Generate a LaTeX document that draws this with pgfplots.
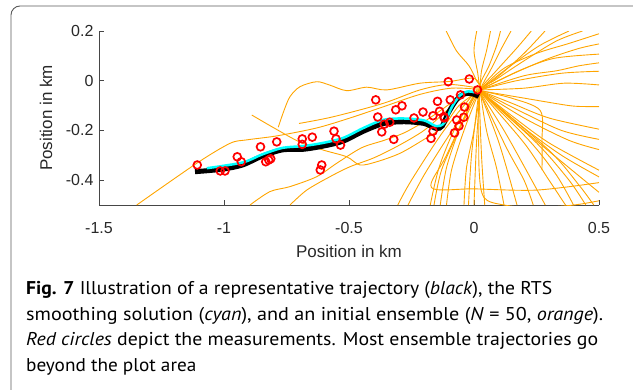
\documentclass[border=0pt]{standalone}
\usepackage{pgfplots}
\pgfplotsset{compat=1.18}
\usepackage{fontspec}
\setmainfont{Liberation Sans}
\newfontfamily\capfont{PT Sans}
\definecolor{ens}{RGB}{255,165,0}
\definecolor{rtscyan}{RGB}{0,255,255}
\definecolor{axgrey}{RGB}{70,70,70}
\definecolor{txgrey}{RGB}{40,40,40}
\definecolor{framegrey}{RGB}{90,90,90}
\newsavebox\capbox
\newcommand{\capline}[3]{%
  \node[anchor=base west, inner sep=0pt, text=black] at (26,#1) {%
    \sbox\capbox{\capfont\fontsize{18.5}{24}\selectfont #3}%
    \pgfmathsetmacro\capsx{#2/\wd\capbox}%
    \scalebox{\capsx}[1]{\usebox\capbox}};}
\newcommand{\caplinef}[3]{%
  \node[anchor=base west, inner sep=0pt, text=black] at (26,#1) {%
    \scalebox{#2}[1]{\capfont\fontsize{18.5}{24}\selectfont #3}};}
\begin{document}
\begin{tikzpicture}[x=1pt,y=1pt]
\useasboundingbox (0,0) rectangle (633,389);
\draw[framegrey, line width=0.9pt, rounded corners=9pt] (11,383) rectangle (680,-40);
\begin{axis}[
  at={(99pt,184pt)}, anchor=south west,
  scale only axis, width=500pt, height=174pt,
  xmin=-1.5, xmax=0.5, ymin=-0.5, ymax=0.2,
  axis x line*=bottom, axis y line*=left,
  axis line style={draw=axgrey, line width=0.8pt, -},
  tick align=inside, major tick length=5pt,
  tick style={axgrey, line width=0.8pt},
  xtick={-1.5,-1,-0.5,0,0.5}, ytick={-0.4,-0.2,0,0.2},
  /pgf/number format/assume math mode=true,
  ticklabel style={font=\fontsize{16}{19}\selectfont, text=txgrey},
  xticklabel style={yshift=-14pt},
  yticklabel style={xshift=-2pt},
  xlabel={Position in km}, ylabel={Position in km},
  label style={font=\fontsize{17}{20}\selectfont, text=txgrey},
  xlabel style={at={(axis description cs:0.5,-0.264)}, anchor=center},
  ylabel style={at={(axis description cs:-0.106,0.5)}, anchor=center},
  every axis plot/.append style={smooth, tension=0.5},
]
% ensemble (orange)
\pgfplotsset{ensline/.style={color=ens, line width=0.9pt}}
\addplot[ensline] coordinates {(-1.349,-0.5) (-1.109,-0.332) (-0.976,-0.252) (-0.909,-0.238) (-0.789,-0.222) (-0.629,-0.19) (-0.496,-0.15) (-0.363,-0.105) (-0.216,-0.055) (-0.09,-0.03) (0.024,-0.035)};
\addplot[ensline] coordinates {(-0.783,-0.187) (-0.760,-0.12) (-0.736,-0.064) (-0.696,-0.024) (-0.629,-0.004) (-0.576,-0.018) (-0.509,-0.040) (-0.429,-0.026) (-0.349,-0.037) (-0.216,-0.010) (-0.098,-0.003) (0.0,0.01) (0.03,-0.03)};
\addplot[ensline] coordinates {(-0.889,-0.138) (-0.80,-0.19) (-0.70,-0.245) (-0.603,-0.279) (-0.509,-0.306) (-0.456,-0.339) (-0.389,-0.326) (-0.296,-0.292) (-0.203,-0.238) (-0.123,-0.185) (-0.06,-0.10) (0.02,-0.04)};
\addplot[ensline] coordinates {(-0.896,-0.5) (-0.816,-0.446) (-0.736,-0.426) (-0.629,-0.386) (-0.549,-0.332) (-0.45,-0.27) (-0.36,-0.24) (-0.28,-0.21) (-0.2,-0.165) (-0.12,-0.11) (-0.05,-0.06) (0.02,-0.04)};
\addplot[ensline] coordinates {(-0.736,-0.5) (-0.669,-0.44) (-0.576,-0.386) (-0.496,-0.346) (-0.40,-0.31) (-0.3,-0.26) (-0.2,-0.2) (-0.12,-0.13) (-0.05,-0.07) (0.02,-0.04)};
\addplot[ensline] coordinates {(-0.70,-0.172) (-0.563,-0.145) (-0.363,-0.091) (-0.216,-0.037) (-0.1,-0.015) (0.02,-0.03)};
% top
\addplot[ensline] coordinates {(-0.111,0.2) (-0.07,0.12) (-0.02,0.06) (0.01,0.0) (0.024,-0.037) (0.0,-0.2) (-0.03,-0.35) (-0.04,-0.5)};
\addplot[ensline] coordinates {(0.011,0.2) (0.0,0.12) (0.015,0.03) (0.024,-0.037) (0.05,-0.2) (0.09,-0.35) (0.12,-0.5)};
\addplot[ensline] coordinates {(0.066,0.2) (0.05,0.12) (0.03,0.04) (0.024,-0.037) (0.01,-0.25) (0.0,-0.5)};
\addplot[ensline] coordinates {(0.106,0.2) (0.09,0.14) (0.06,0.06) (0.03,0.0) (0.024,-0.037)};
\addplot[ensline] coordinates {(0.148,0.2) (0.11,0.13) (0.07,0.05) (0.024,-0.037) (-0.04,-0.2) (-0.09,-0.36) (-0.11,-0.5)};
\addplot[ensline] coordinates {(0.229,0.2) (0.17,0.13) (0.08,0.03) (0.024,-0.037) (-0.06,-0.2) (-0.13,-0.36) (-0.16,-0.5)};
\addplot[ensline] coordinates {(0.284,0.2) (0.2,0.11) (0.1,0.02) (0.024,-0.037)};
\addplot[ensline] coordinates {(0.38,0.2) (0.26,0.14) (0.12,0.04) (0.024,-0.037)};
\addplot[ensline] coordinates {(0.434,0.2) (0.33,0.16) (0.2,0.08) (0.08,0.0) (0.024,-0.037) (-0.1,-0.22) (-0.2,-0.38) (-0.264,-0.5)};
% right
\addplot[ensline] coordinates {(0.024,-0.037) (0.12,0.05) (0.25,0.11) (0.38,0.15) (0.5,0.189)};
\addplot[ensline] coordinates {(0.024,-0.037) (0.16,0.03) (0.3,0.09) (0.42,0.13) (0.5,0.148)};
\addplot[ensline] coordinates {(0.024,-0.037) (0.18,0.04) (0.32,0.09) (0.5,0.107)};
\addplot[ensline] coordinates {(0.024,-0.037) (0.2,0.02) (0.33,0.04) (0.42,0.06) (0.5,0.072)};
\addplot[ensline] coordinates {(0.024,-0.037) (0.17,0.0) (0.35,0.03) (0.5,0.038)};
\addplot[ensline] coordinates {(0.024,-0.037) (0.2,-0.03) (0.36,-0.01) (0.5,-0.017)};
\addplot[ensline] coordinates {(0.024,-0.04) (0.2,-0.07) (0.38,-0.10) (0.45,-0.104) (0.5,-0.104)};
\addplot[ensline] coordinates {(0.024,-0.04) (0.15,-0.09) (0.3,-0.15) (0.5,-0.195)};
\addplot[ensline] coordinates {(0.024,-0.04) (0.18,-0.12) (0.35,-0.2) (0.5,-0.236)};
\addplot[ensline] coordinates {(0.024,-0.04) (0.2,-0.15) (0.38,-0.24) (0.5,-0.277)};
\addplot[ensline] coordinates {(0.024,-0.04) (0.15,-0.14) (0.3,-0.25) (0.5,-0.36)};
\addplot[ensline] coordinates {(0.024,-0.04) (0.2,-0.19) (0.35,-0.3) (0.5,-0.387)};
\addplot[ensline] coordinates {(0.024,-0.04) (0.2,-0.2) (0.38,-0.35) (0.5,-0.449)};
\addplot[ensline] coordinates {(0.024,-0.04) (0.15,-0.07) (0.265,-0.12) (0.272,-0.24) (0.272,-0.36)};
% bottom
\addplot[ensline] coordinates {(0.01,-0.04) (-0.12,-0.2) (-0.25,-0.4) (-0.305,-0.5)};
\addplot[ensline] coordinates {(0.01,-0.04) (-0.08,-0.2) (-0.14,-0.35) (-0.175,-0.5)};
\addplot[ensline] coordinates {(0.01,-0.04) (-0.06,-0.2) (-0.11,-0.35) (-0.135,-0.5)};
\addplot[ensline] coordinates {(0.02,-0.04) (-0.01,-0.3) (-0.022,-0.5)};
\addplot[ensline] coordinates {(0.02,-0.04) (0.03,-0.3) (0.043,-0.5)};
\addplot[ensline] coordinates {(0.02,-0.04) (0.1,-0.25) (0.172,-0.5)};
\addplot[ensline] coordinates {(0.02,-0.04) (0.13,-0.27) (0.2,-0.4) (0.237,-0.5)};
\addplot[ensline] coordinates {(0.02,-0.04) (0.12,-0.2) (0.22,-0.38) (0.285,-0.5)};
\addplot[ensline] coordinates {(0.02,-0.04) (0.2,-0.25) (0.3,-0.4) (0.366,-0.5)};
\addplot[ensline] coordinates {(0.02,-0.04) (0.22,-0.24) (0.33,-0.38) (0.398,-0.5)};
\addplot[ensline] coordinates {(0.02,-0.04) (0.25,-0.25) (0.38,-0.4) (0.447,-0.5)};
\addplot[ensline] coordinates {(0.02,-0.04) (0.3,-0.28) (0.42,-0.42) (0.479,-0.5)};
\addplot[ensline] coordinates {(0.01,-0.04) (-0.11,-0.3) (-0.17,-0.43) (0.0,-0.435) (0.25,-0.44) (0.5,-0.41)};
\addplot[ensline] coordinates {(0.02,-0.04) (0.02,-0.35) (0.04,-0.47) (0.12,-0.50) (0.243,-0.511) (0.40,-0.50) (0.5,-0.483)};
% true trajectory (black)
\addplot[black, line width=5pt] coordinates {(-1.116,-0.366) (-1.007,-0.356) (-0.926,-0.339) (-0.846,-0.303) (-0.765,-0.278) (-0.684,-0.276) (-0.603,-0.263) (-0.523,-0.243) (-0.442,-0.203) (-0.361,-0.172) (-0.280,-0.165) (-0.199,-0.172) (-0.151,-0.192) (-0.127,-0.182) (-0.103,-0.130) (-0.070,-0.077) (-0.038,-0.052) (-0.006,-0.053) (0.019,-0.063)};
% RTS (cyan)
\addplot[rtscyan, line width=2.5pt] coordinates {(-1.069,-0.352) (-0.926,-0.329) (-0.846,-0.296) (-0.765,-0.270) (-0.684,-0.263) (-0.603,-0.250) (-0.523,-0.230) (-0.442,-0.190) (-0.361,-0.157) (-0.280,-0.152) (-0.199,-0.160) (-0.151,-0.183) (-0.119,-0.170) (-0.087,-0.103) (-0.054,-0.057) (-0.022,-0.043) (0.002,-0.047)};
% measurements
\addplot[only marks, mark=o, red, mark size=3.9pt, line width=1.7pt] coordinates {
(-1.107,-0.339) (-1.015,-0.363) (-0.996,-0.363) (-0.947,-0.306) (-0.931,-0.326)
(-0.854,-0.266) (-0.833,-0.326) (-0.821,-0.319) (-0.813,-0.314) (-0.789,-0.246)
(-0.687,-0.234) (-0.687,-0.256) (-0.647,-0.227) (-0.615,-0.359) (-0.609,-0.339)
(-0.560,-0.203) (-0.552,-0.234) (-0.534,-0.259) (-0.393,-0.077) (-0.385,-0.146)
(-0.369,-0.206) (-0.359,-0.175) (-0.337,-0.167) (-0.321,-0.236) (-0.313,-0.117)
(-0.288,-0.101) (-0.240,-0.150) (-0.204,-0.126) (-0.172,-0.232) (-0.164,-0.203)
(-0.164,-0.141) (-0.146,-0.083) (-0.138,-0.123) (-0.119,-0.150) (-0.103,-0.004)
(-0.095,-0.077) (-0.078,-0.210) (-0.069,-0.158) (-0.060,-0.182) (-0.054,-0.057)
(-0.041,-0.147) (-0.038,-0.106) (-0.019,0.007) (0.014,-0.037) (-0.120,-0.145)};
\end{axis}
\capline{94}{526}{\textbf{Fig. 7} Illustration of a representative trajectory (\textit{black}), the RTS}
\capline{68.5}{577}{smoothing solution (\textit{cyan}), and an initial ensemble (\textit{N} = 50, \textit{orange}).}
\capline{43}{572}{\textit{Red circles} depict the measurements. Most ensemble trajectories go}
\caplinef{17.5}{1.04}{beyond the plot area}
\end{tikzpicture}
\end{document}
